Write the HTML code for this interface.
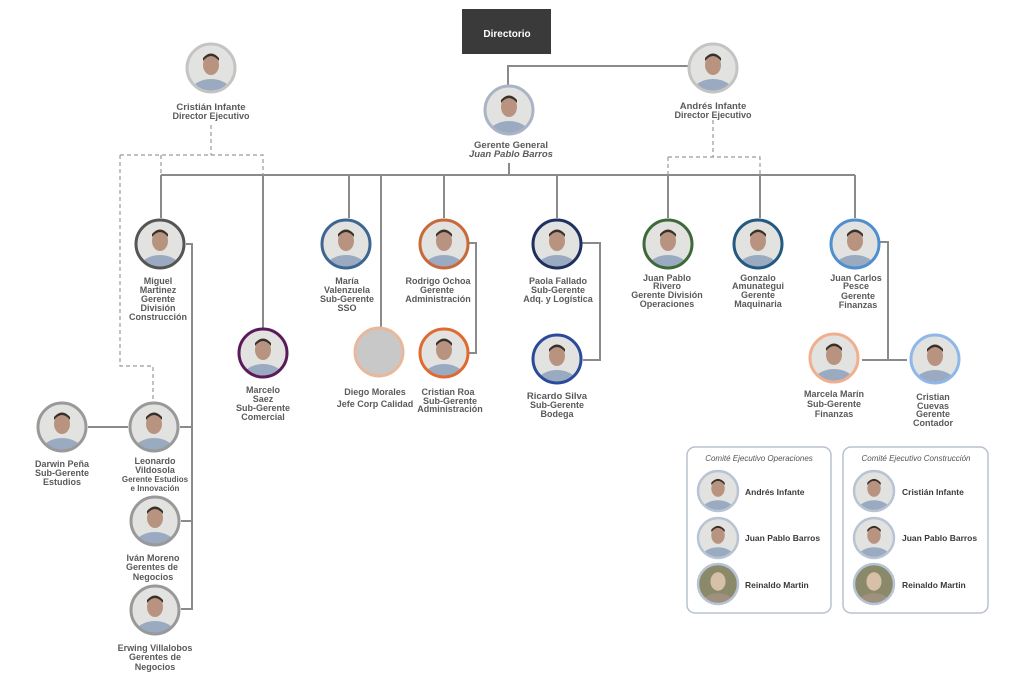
<!DOCTYPE html>
<html><head><meta charset="utf-8"><style>
html,body{margin:0;padding:0;background:#fff;}
svg{display:block;}
text{font-family:"Liberation Sans",Arial,sans-serif;font-weight:bold;fill:#5a5a5a;text-anchor:middle;}
.s{font-size:9px;}
.n{font-size:9.5px;}
.c{font-size:8.5px;fill:#3a3a3a;text-anchor:start;}
.t{font-size:8px;font-style:italic;font-weight:normal;fill:#555;}
</style></head><body>
<svg width="1024" height="695" viewBox="0 0 1024 695" xmlns="http://www.w3.org/2000/svg">
<defs>
<clipPath id="cp"><circle cx="0" cy="0" r="24"/></clipPath>
<symbol id="p" viewBox="-25 -25 50 50">
<g clip-path="url(#cp)">
<rect x="-25" y="-25" width="50" height="50" fill="#e2e2e0"/>
<ellipse cx="0" cy="24" rx="20" ry="13" fill="#9aaac0"/>
<ellipse cx="0" cy="-3" rx="8" ry="10" fill="#b89480"/>
<path d="M-8,-7 Q0,-17 8,-7 L8,-10 Q0,-19 -8,-10Z" fill="#3a302a"/>
</g>
</symbol>
<symbol id="g" viewBox="-25 -25 50 50">
<g clip-path="url(#cp)">
<rect x="-25" y="-25" width="50" height="50" fill="#8a8a6a"/>
<ellipse cx="0" cy="24" rx="20" ry="13" fill="#a09080"/>
<ellipse cx="0" cy="-3" rx="9" ry="11" fill="#d8c0a8"/>
</g>
</symbol>
</defs>

<!-- Directorio -->
<rect x="462" y="9" width="89" height="45" fill="#3a3a3a"/>
<text x="507" y="37" style="font-size:10px;fill:#fff;font-weight:bold">Directorio</text>

<!-- solid connectors -->
<g stroke="#8a8a8a" stroke-width="2" fill="none">
<path d="M508,85 V66 H688"/>
<path d="M509,163 V175"/>
<path d="M161,175 H855"/>
<path d="M161,175 V218"/>
<path d="M263,175 V328"/>
<path d="M349,175 V218"/>
<path d="M381,175 V328"/>
<path d="M444,175 V218"/>
<path d="M557,175 V218"/>
<path d="M668,175 V218"/>
<path d="M760,175 V218"/>
<path d="M855,175 V218"/>
<path d="M186,244 H192 V609 H181"/>
<path d="M180,427 H192"/>
<path d="M181,521 H192"/>
<path d="M88,427 H128"/>
<path d="M469,243 H476 V353 H469"/>
<path d="M582,243 H600 V360 H583"/>
<path d="M880,242 H888 V360"/>
<path d="M862,360 H907"/>
</g>
<!-- dashed -->
<g stroke="#9a9a9a" stroke-width="1.2" fill="none" stroke-dasharray="4,3">
<path d="M211,125 V155"/>
<path d="M120,155 H263 V175"/>
<path d="M161,155 V175"/>
<path d="M120,155 V366 H153 V401"/>
<path d="M713,120 V157"/>
<path d="M668,157 H760 V175"/>
<path d="M668,157 V175"/>
</g>

<!-- people circles -->
<g stroke-width="3" fill="none">
<use href="#p" x="186" y="43" width="50" height="50"/><circle cx="211" cy="68" r="24" stroke="#c4c4c4"/>
<use href="#p" x="484" y="85" width="50" height="50"/><circle cx="509" cy="110" r="24" stroke="#aab4c6"/>
<use href="#p" x="688" y="43" width="50" height="50"/><circle cx="713" cy="68" r="24" stroke="#c4c4c4"/>

<use href="#p" x="135" y="219" width="50" height="50"/><circle cx="160" cy="244" r="24" stroke="#555"/>
<use href="#p" x="321" y="219" width="50" height="50"/><circle cx="346" cy="244" r="24" stroke="#3d6690"/>
<use href="#p" x="419" y="219" width="50" height="50"/><circle cx="444" cy="244" r="24" stroke="#c8693a"/>
<use href="#p" x="532" y="219" width="50" height="50"/><circle cx="557" cy="244" r="24" stroke="#1f3060"/>
<use href="#p" x="643" y="219" width="50" height="50"/><circle cx="668" cy="244" r="24" stroke="#3e6a3a"/>
<use href="#p" x="733" y="219" width="50" height="50"/><circle cx="758" cy="244" r="24" stroke="#245a80"/>
<use href="#p" x="830" y="219" width="50" height="50"/><circle cx="855" cy="244" r="24" stroke="#4f8fcf"/>

<use href="#p" x="238" y="328" width="50" height="50"/><circle cx="263" cy="353" r="24" stroke="#5b1a5a"/>
<circle cx="379" cy="352" r="24" stroke="#e8b89a" fill="#c8c8c8"/>
<use href="#p" x="419" y="328" width="50" height="50"/><circle cx="444" cy="353" r="24" stroke="#e06a30"/>
<use href="#p" x="532" y="334" width="50" height="50"/><circle cx="557" cy="359" r="24" stroke="#2a4a9a"/>
<use href="#p" x="809" y="333" width="50" height="50"/><circle cx="834" cy="358" r="24" stroke="#f0b090"/>
<use href="#p" x="910" y="334" width="50" height="50"/><circle cx="935" cy="359" r="24" stroke="#8fb8e8"/>

<use href="#p" x="37" y="402" width="50" height="50"/><circle cx="62" cy="427" r="24" stroke="#999"/>
<use href="#p" x="129" y="402" width="50" height="50"/><circle cx="154" cy="427" r="24" stroke="#999"/>
<use href="#p" x="130" y="496" width="50" height="50"/><circle cx="155" cy="521" r="24" stroke="#999"/>
<use href="#p" x="130" y="585" width="50" height="50"/><circle cx="155" cy="610" r="24" stroke="#999"/>
</g>

<!-- labels -->
<text class="n" x="211" y="110">Cristián Infante</text>
<text class="s" x="211" y="119">Director Ejecutivo</text>
<text class="n" x="511" y="148">Gerente General</text>
<text class="n" x="511" y="157" style="font-style:italic">Juan Pablo Barros</text>
<text class="n" x="713" y="109">Andrés Infante</text>
<text class="s" x="713" y="118">Director Ejecutivo</text>

<text class="s" x="158" y="284">Miguel</text>
<text class="s" x="158" y="293">Martinez</text>
<text class="s" x="158" y="302">Gerente</text>
<text class="s" x="158" y="311">División</text>
<text class="s" x="158" y="320">Construcción</text>

<text class="s" x="347" y="284">María</text>
<text class="s" x="347" y="293">Valenzuela</text>
<text class="s" x="347" y="302">Sub-Gerente</text>
<text class="s" x="347" y="311">SSO</text>

<text class="s" x="438" y="284">Rodrigo Ochoa</text>
<text class="s" x="437" y="293">Gerente</text>
<text class="s" x="438" y="302">Administración</text>

<text class="s" x="558" y="284">Paola Fallado</text>
<text class="s" x="558" y="293">Sub-Gerente</text>
<text class="s" x="558" y="302">Adq. y Logística</text>

<text class="s" x="667" y="281">Juan Pablo</text>
<text class="s" x="667" y="289">Rivero</text>
<text class="s" x="667" y="298">Gerente División</text>
<text class="s" x="667" y="307">Operaciones</text>

<text class="s" x="758" y="281">Gonzalo</text>
<text class="s" x="758" y="289">Amunategui</text>
<text class="s" x="758" y="298">Gerente</text>
<text class="s" x="758" y="307">Maquinaria</text>

<text class="s" x="856" y="281">Juan Carlos</text>
<text class="s" x="856" y="289">Pesce</text>
<text class="s" x="858" y="299">Gerente</text>
<text class="s" x="858" y="308">Finanzas</text>

<text class="s" x="263" y="393">Marcelo</text>
<text class="s" x="263" y="402">Saez</text>
<text class="s" x="263" y="411">Sub-Gerente</text>
<text class="s" x="263" y="420">Comercial</text>

<text class="s" x="375" y="395">Diego Morales</text>
<text class="s" x="375" y="407">Jefe Corp Calidad</text>

<text class="s" x="448" y="395">Cristian Roa</text>
<text class="s" x="450" y="404">Sub-Gerente</text>
<text class="s" x="450" y="412">Administración</text>

<text class="n" x="557" y="399">Ricardo Silva</text>
<text class="s" x="557" y="408">Sub-Gerente</text>
<text class="s" x="557" y="417">Bodega</text>

<text class="s" x="834" y="397">Marcela Marín</text>
<text class="s" x="834" y="407">Sub-Gerente</text>
<text class="s" x="834" y="417">Finanzas</text>

<text class="s" x="933" y="400">Cristian</text>
<text class="s" x="933" y="409">Cuevas</text>
<text class="s" x="933" y="417">Gerente</text>
<text class="s" x="933" y="426">Contador</text>

<text class="s" x="62" y="467">Darwin Peña</text>
<text class="s" x="62" y="476">Sub-Gerente</text>
<text class="s" x="62" y="485">Estudios</text>

<text class="s" x="155" y="464">Leonardo</text>
<text class="s" x="155" y="473">Vildosola</text>
<text class="s" style="font-size:8px" x="155" y="482">Gerente Estudios</text>
<text class="s" style="font-size:8px" x="155" y="491">e Innovación</text>

<text class="s" x="153" y="561">Iván Moreno</text>
<text class="s" x="152" y="570">Gerentes de</text>
<text class="s" x="153" y="580">Negocios</text>

<text class="s" x="155" y="651">Erwing Villalobos</text>
<text class="s" x="155" y="660">Gerentes de</text>
<text class="s" x="155" y="670">Negocios</text>

<!-- committees -->
<rect x="687" y="447" width="144" height="166" rx="8" fill="#fff" stroke="#b8c0d0" stroke-width="1.5"/>
<rect x="843" y="447" width="145" height="166" rx="8" fill="#fff" stroke="#b8c0d0" stroke-width="1.5"/>
<text class="t" x="759" y="461">Comité Ejecutivo Operaciones</text>
<text class="t" x="916" y="461">Comité Ejecutivo Construcción</text>
<g stroke-width="2.5" fill="none">
<use href="#p" x="697" y="470" width="42" height="42"/><circle cx="718" cy="491" r="20" stroke="#b8c4d4"/>
<use href="#p" x="697" y="517" width="42" height="42"/><circle cx="718" cy="538" r="20" stroke="#b8c4d4"/>
<use href="#g" x="697" y="563" width="42" height="42"/><circle cx="718" cy="584" r="20" stroke="#b8c4d4"/>
<use href="#p" x="853" y="470" width="42" height="42"/><circle cx="874" cy="491" r="20" stroke="#b8c4d4"/>
<use href="#p" x="853" y="517" width="42" height="42"/><circle cx="874" cy="538" r="20" stroke="#b8c4d4"/>
<use href="#g" x="853" y="563" width="42" height="42"/><circle cx="874" cy="584" r="20" stroke="#b8c4d4"/>
</g>
<text class="c" x="745" y="495">Andrés Infante</text>
<text class="c" x="745" y="541">Juan Pablo Barros</text>
<text class="c" x="745" y="588">Reinaldo Martin</text>
<text class="c" x="902" y="495">Cristián Infante</text>
<text class="c" x="902" y="541">Juan Pablo Barros</text>
<text class="c" x="902" y="588">Reinaldo Martin</text>
</svg>
</body></html>
